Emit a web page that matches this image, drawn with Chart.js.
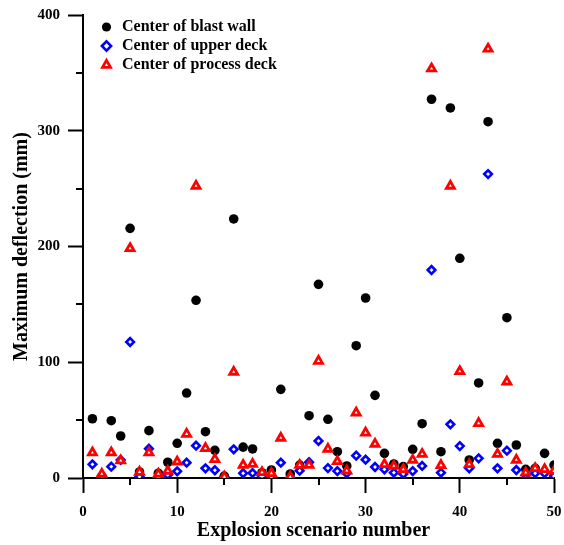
<!DOCTYPE html>
<html>
<head>
<meta charset="utf-8">
<script src="https://cdn.jsdelivr.net/npm/chart.js@4/dist/chart.umd.min.js"></script>
<style>
  html, body { margin: 0; padding: 0; background: #fff; }
  #wrap { width: 564px; height: 545px; }
</style>
</head>
<body>
<div id="wrap"><canvas id="c" width="564" height="545"></canvas></div>
<script>
// ---- data ----
const scenarios = [1,2,3,4,5,6,7,8,9,10,11,12,13,14,15,16,17,18,19,20,21,22,23,24,25,
                   26,27,28,29,30,31,32,33,34,35,36,37,38,39,40,41,42,43,44,45,46,47,48,49,50];
const blastWall = [51.2,1.1,49.5,36.3,215.7,5.2,40.9,4.1,13.6,30.0,73.4,153.5,40.0,23.9,1.7,223.8,26.7,25.1,4.6,6.9,
                   76.6,3.5,11.2,53.8,167.3,50.7,22.7,10.4,114.3,155.5,71.4,21.3,12.1,9.8,24.8,46.9,327.2,22.7,319.7,189.8,
                   15.6,82.1,307.8,30.0,138.5,28.5,7.5,8.4,21.3,11.2];
const upperDeck = [11.8,1.7,9.8,15.6,117.5,1.1,25.3,0.6,2.6,5.8,13.2,27.9,8.4,6.7,1.0,24.8,4.1,4.3,1.7,1.1,
                   13.2,0.3,6.3,13.6,32.0,8.6,6.0,4.1,19.3,15.8,9.5,7.5,4.6,3.5,6.0,10.4,179.7,4.6,46.4,27.6,
                   8.4,17.0,262.6,8.4,23.6,6.9,2.6,4.1,4.1,1.7];
const processDeck = [21.9,3.5,21.9,15.0,198.4,5.2,21.9,3.5,6.0,14.1,38.0,252.3,25.7,16.2,1.1,91.6,11.2,12.1,4.9,4.1,
                     34.6,1.1,11.2,11.2,101.1,25.1,14.4,6.3,56.4,39.1,29.4,11.8,10.4,7.5,15.6,20.7,353.7,11.0,252.3,92.2,
                     11.8,47.3,370.7,20.7,83.2,15.6,4.6,8.4,7.5,6.0];
const seriesNames = ['Center of blast wall', 'Center of upper deck', 'Center of process deck'];
const xMinorTicks = [5, 15, 25, 35, 45];
const yMinorTicks = [50, 150, 250, 350];

const toPoints = (vals) => scenarios.map((s, i) => ({ x: s, y: vals[i] }));

const FONT = 'Liberation Serif, "Times New Roman", serif';

const minorTicksPlugin = {
  id: 'minorTicks',
  afterDraw(chart) {
    const ctx = chart.ctx, xs = chart.scales.x, ys = chart.scales.y;
    ctx.save();
    ctx.strokeStyle = '#000';
    ctx.lineWidth = 2;
    xMinorTicks.forEach(v => {
      const px = Math.round(xs.getPixelForValue(v));
      ctx.beginPath(); ctx.moveTo(px, xs.top); ctx.lineTo(px, xs.top + 7); ctx.stroke();
    });
    yMinorTicks.forEach(v => {
      const py = Math.round(ys.getPixelForValue(v));
      ctx.beginPath(); ctx.moveTo(ys.right, py); ctx.lineTo(ys.right - 7, py); ctx.stroke();
    });
    ctx.restore();
  }
};

const legendPlacePlugin = {
  id: 'legendPlace',
  afterLayout(chart) {
    const lg = chart.legend;
    if (!lg) return;
    const w = lg.width, h = lg.height;
    lg.left = 96; lg.top = 16;
    lg.right = lg.left + w; lg.bottom = lg.top + h;
  }
};

new Chart(document.getElementById('c'), {
  type: 'scatter',
  data: {
    datasets: [
      { label: seriesNames[0], data: toPoints(blastWall), order: 2,
        pointStyle: 'circle', pointRadius: 4.8, pointHoverRadius: 4.8,
        backgroundColor: '#000', borderColor: '#000', borderWidth: 0 },
      { label: seriesNames[1], data: toPoints(upperDeck), order: 1,
        pointStyle: 'rectRot', pointRadius: 3.8, pointHoverRadius: 3.8,
        backgroundColor: '#fff', borderColor: '#0000ff', borderWidth: 2.6 },
      { label: seriesNames[2], data: toPoints(processDeck), order: 0,
        pointStyle: 'triangle', pointRadius: 4.6, pointHoverRadius: 4.6,
        backgroundColor: '#fff', borderColor: '#ff0000', borderWidth: 2.8 }
    ]
  },
  options: {
    responsive: false,
    animation: false,
    devicePixelRatio: 1,
    layout: { padding: { top: 15, right: 10, left: 0, bottom: 0 } },
    plugins: {
      tooltip: { enabled: false },
      legend: {
        position: 'chartArea',
        align: 'start',
        labels: {
          usePointStyle: true,
          boxWidth: 15,
          boxHeight: 6.5,
          padding: 3,
          color: '#000',
          font: { family: FONT, size: 16, weight: 'bold' },
          sort: (a, b) => a.datasetIndex - b.datasetIndex
        }
      }
    },
    scales: {
      x: {
        type: 'linear', min: 0, max: 50,
        afterFit(scale) { scale.height = 67; scale.paddingLeft = 0; scale.paddingRight = 0; },
        ticks: { stepSize: 10, autoSkip: false, maxRotation: 0, padding: 10, color: '#000',
                 font: { family: FONT, size: 15, weight: 'bold' } },
        grid: { drawOnChartArea: false, drawTicks: true, tickLength: 15, tickWidth: 2, tickColor: '#000' },
        border: { display: true, color: '#000', width: 2 },
        title: { display: true, text: 'Explosion scenario number  ', color: '#000',
                 font: { family: FONT, size: 20, weight: 'bold' }, padding: { top: 0, bottom: 2 } }
      },
      y: {
        type: 'linear', min: 0, max: 400,
        afterFit(scale) { scale.width = 83; scale.paddingTop = 0; scale.paddingBottom = 0; },
        ticks: { stepSize: 100, autoSkip: false, padding: 8, color: '#000',
                 font: { family: FONT, size: 15, weight: 'bold' } },
        grid: { drawOnChartArea: false, drawTicks: true, tickLength: 15, tickWidth: 2, tickColor: '#000' },
        border: { display: true, color: '#000', width: 2 },
        title: { display: true, text: 'Maximum deflection (mm)', color: '#000',
                 font: { family: FONT, size: 20, weight: 'bold' }, padding: { top: 10, bottom: 0 } }
      }
    }
  },
  plugins: [minorTicksPlugin, legendPlacePlugin]
});
</script>
</body>
</html>
